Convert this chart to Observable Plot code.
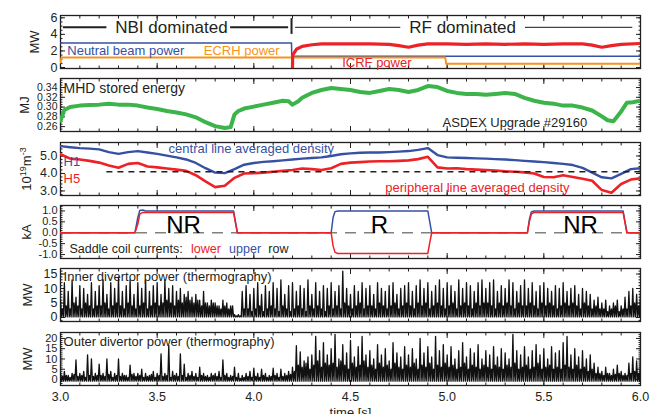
<!DOCTYPE html>
<html><head><meta charset="utf-8">
<script src="https://cdn.jsdelivr.net/npm/d3@7"></script>
<script src="https://cdn.jsdelivr.net/npm/@observablehq/plot@0.6"></script>
<style>
body{margin:0;background:#fff;}
#chart{position:relative;width:662px;height:414px;overflow:hidden;background:#fff;}
#chart svg{position:absolute;left:0;}
</style></head><body><div id="chart"></div>
<script>
// ---------------- data ----------------
const xTicks = [3.0, 3.5, 4.0, 4.5, 5.0, 5.5, 6.0];

// Panel 1: heating power (MW)
const nbiT   = [3.0, 4.195, 4.196, 6.0];
const nbiMW  = [2.97, 2.97, 1.35, 1.35];
const ecrhT  = [3.0, 3.005, 4.99, 4.995, 6.0];
const ecrhMW = [0.6, 1.22, 1.22, 0.45, 0.45];
const icrfT  = [4.2, 4.201, 4.22, 4.25, 4.3, 4.35, 4.4, 4.5, 4.6, 4.7, 4.75, 4.8, 4.85, 4.9, 5.0, 5.1, 5.2, 5.3, 5.4, 5.5, 5.6, 5.7, 5.75, 5.8, 5.85, 5.9, 6.0];
const icrfMW = [0, 1.5, 2.2, 2.55, 2.75, 2.85, 2.85, 2.85, 2.85, 2.8, 2.65, 2.45, 2.7, 2.85, 2.85, 2.8, 2.85, 2.8, 2.85, 2.8, 2.85, 2.85, 2.7, 2.45, 2.65, 2.8, 2.9];
const p1Ticks = [0, 2, 4, 6];

// Panel 2: MHD stored energy (MJ)
const wT  = [3.00,3.02,3.05,3.10,3.15,3.20,3.25,3.30,3.35,3.40,3.45,3.50,3.55,3.60,3.65,3.70,3.75,3.80,3.85,3.88,3.90,3.92,3.95,4.00,4.05,4.10,4.15,4.18,4.20,4.23,4.25,4.30,4.35,4.40,4.45,4.50,4.55,4.60,4.65,4.70,4.75,4.80,4.85,4.90,4.95,5.00,5.05,5.10,5.15,5.20,5.25,5.30,5.35,5.40,5.45,5.50,5.55,5.60,5.65,5.70,5.75,5.80,5.83,5.86,5.90,5.93,5.96,6.00];
const wMJ = [0.272,0.294,0.300,0.303,0.304,0.305,0.307,0.305,0.305,0.303,0.299,0.296,0.292,0.289,0.285,0.279,0.269,0.261,0.257,0.259,0.285,0.292,0.297,0.301,0.305,0.309,0.313,0.312,0.305,0.312,0.319,0.329,0.335,0.339,0.337,0.335,0.331,0.329,0.333,0.337,0.335,0.331,0.335,0.343,0.341,0.333,0.329,0.327,0.327,0.325,0.327,0.329,0.327,0.319,0.313,0.309,0.307,0.303,0.303,0.299,0.293,0.281,0.273,0.271,0.291,0.309,0.310,0.313];
const p2Ticks = [0.26, 0.28, 0.30, 0.32, 0.34];

// Panel 3: line averaged densities (10^19 m^-3), sampled every 0.05 s from 3.0 s
const centralDens = [5.56,5.5,5.45,5.42,5.38,5.22,5.12,5.22,5.28,5.2,
  5.12,5.02,4.92,4.8,4.6,4.3,4.05,4.02,4.25,4.5,
  4.6,4.66,4.7,4.75,4.8,4.85,4.88,4.92,5.0,5.1,
  5.15,5.18,5.2,5.2,5.22,5.25,5.28,5.35,5.45,5.05,
  4.92,4.9,4.88,4.86,4.85,4.82,4.8,4.76,4.72,4.68,
  4.65,4.6,4.55,4.48,4.32,4.05,3.78,3.72,3.98,4.25,
  4.3];
const peripheralDens = [5.1,4.85,4.8,4.72,4.62,4.45,4.33,4.55,4.6,4.4,
  4.35,4.28,4.22,4.15,3.9,3.55,3.22,3.3,3.75,4.0,
  4.02,4.05,4.1,4.15,4.2,4.28,4.25,4.2,4.3,4.55,
  4.62,4.65,4.68,4.7,4.7,4.72,4.75,4.82,4.95,4.35,
  4.28,4.3,4.25,4.22,4.2,4.17,4.12,4.1,4.06,4.0,
  3.8,3.78,3.9,3.8,3.7,3.58,3.05,2.9,3.4,3.65,
  3.72];
const densThreshold = 4.1;
const p3Ticks = [3.0, 4.0, 5.0];

// Panel 4: saddle coil currents (kA)
const coilT   = [3.0, 3.385, 3.40, 3.41, 3.425, 3.44, 3.895, 3.905, 3.915, 4.40, 4.41, 4.42, 4.435, 4.9, 4.91, 4.92, 5.415, 5.425, 5.435, 5.45, 5.91, 5.92, 5.93, 6.0];
const upperKA = [0, 0, 0.7, 1.02, 1.04, 1.0, 1.0, 0.5, 0, 0, 0.7, 0.97, 1.0, 1.0, 0.5, 0, 0, 0.6, 0.95, 1.0, 1.0, 0.5, 0, 0];
const lowerKA = [0, 0, 0.4, 0.85, 0.93, 0.93, 0.93, 0.45, 0, 0, -0.6, -0.9, -0.95, -0.95, -0.45, 0, 0, 0.5, 0.85, 0.93, 0.93, 0.45, 0, 0];
const p4Ticks = [-1.0, -0.5, 0.0, 0.5, 1.0];

// Panels 5/6: divertor power (MW), ELM peaks and inter-ELM level every 0.02 s from 3.0 s
const innerPeak = [6,12,9,13,7,11,10,8,12,9, 11,13,8,12,10,14,9,11,13,8, 12,10,13,9,11,12,8,13,10,11,
  9,10,8,9,7,8,6,9,5,6, 5,4,6,5,4,1,1,9,11,8, 10,12,8,11,9,12,10,13,8,11,
  12,9,11,10,13,8,12,9,11,10, 12,9,11,16,10,8,11,9,12,10, 11,8,12,10,9,11,12,8,10,11,
  12,9,11,13,10,12,9,11,13,10, 12,11,9,13,10,12,11,9,12,13, 10,12,13,9,11,10,13,12,9,11,
  13,10,12,9,11,12,10,9,11,10, 12,9,10,11,8,10,9,8,6,7, 5,6,4,5,6,4,7,9,10,8, 9];
const innerMid = [3,4,3,5,4,3,5,4,3,4, 4,5,3,4,5,4,3,5,4,3, 4,5,3,4,5,4,5,6,5,4,
  6,5,7,6,5,6,4,5,4,5, 4,3,4,3,4,0.5,0.5,3,3,2, 3,4,2,3,4,3,2,4,3,2,
  3,4,3,2,4,3,4,3,2,4, 3,4,3,5,4,3,4,5,3,4, 4,3,5,4,3,4,5,3,4,5,
  4,3,5,4,5,3,4,5,4,3, 4,5,3,4,5,4,3,5,4,5, 5,4,3,5,4,5,4,3,5,4,
  4,5,4,3,5,4,5,4,3,4, 5,4,5,4,3,5,4,3,4,3, 3,2,3,4,2,3,3,4,5,4, 4];
const innerBase = 0.2;
const outerPeak = [3,4,2,3,9.5,3,4,12,10,3, 7.5,3,10,4,3,10,3,2,7,3, 3,5,3,2,4,3,12.5,3,16.5,4,
  3,12.5,7.5,3,4,3,6,3,2,3, 3,4,9.5,3,2,6,3,2,3,4, 5.5,3,5,3,2,5.5,3,5,3,4,
  6,16.5,13.5,9,11,12,21,14,18,12, 15,22,10,17,13,19,11,16,21,12, 14,10,17,12,15,9,18,13,11,16,
  12,15,10,20,13,16,11,21,14,17, 12,16,10,14,18,11,15,13,17,10, 14,12,16,11,15,13,10,22,14,12,
  16,11,14,17,12,15,10,16,13,14, 18,21,12,15,11,14,10,12,8,6, 4,6,3,5,7,4,3,8,11,9, 10];
const outerMid = [1.5,2,1,2.5,1.5,2,1,2,1.5,2, 2,1.5,2.5,1,2,1.5,2,1,2.5,1.5, 2,1,1.5,2.5,1,2,1.5,2,1,2,
  1.5,2,1,2,1.5,1,2,1.5,1,2, 1.5,1,2,1,1.5,1,0.5,1,1.5,1, 1.5,1,2,1,1.5,2,1,1.5,2,2.5,
  4,7,6,8,5,7,9,6,8,7, 8,6,9,7,5,8,6,7,9,6, 7,5,8,6,7,5,8,6,5,7,
  6,8,5,7,6,8,5,7,6,8, 6,7,5,6,8,5,7,6,5,7, 6,5,7,6,5,7,6,8,5,6,
  7,5,6,8,5,6,7,5,6,5, 7,6,5,7,5,6,4,5,3,3, 2,3,2,2.5,3,2,2,3,4,3, 4];
const outerBase = -0.8;
const p5Ticks = [0, 5, 10, 15];
const p6Ticks = [0, 5, 10, 15, 20];

// ---------------- drawing ----------------
const chart = document.getElementById("chart");
const FONT = '"Liberation Sans", Arial, Helvetica, sans-serif';
const ink = "#231f20";
const BLUE = "#3651a3", RED = "#ec2227", ORANGE = "#f7941d", GREEN = "#3cb44a";
const zip = (T, V) => T.map((t, i) => ({t, v: V[i]}));
const densT = d3.range(centralDens.length).map(i => 3 + i * 0.05);
function elmSeries(peaks, mids, base) {
  const pts = [];
  peaks.forEach((p, i) => {
    const t = 3 + i * 0.02;
    pts.push({t, v: p}, {t: t + 0.005, v: base}, {t: t + 0.01, v: mids[i]}, {t: t + 0.015, v: base});
  });
  return pts;
}
const xMinor = d3.range(30, 61).map(d => d / 10);
const none = () => "";

function frameMarks(yMajor, yMinor, yFmt, xLabels, fs = 12.5) {
  return [
    Plot.axisY(yMinor, {anchor: "left", tickSize: -2.5, tickFormat: none, label: null}),
    Plot.axisY(yMinor, {anchor: "right", tickSize: -2.5, tickFormat: none, label: null}),
    Plot.axisX(xMinor, {anchor: "top", tickSize: -2.5, tickFormat: none, label: null}),
    Plot.axisX(xMinor, {anchor: "bottom", tickSize: -2.5, tickFormat: none, label: null}),
    Plot.axisY(yMajor, {anchor: "left", tickSize: -5, tickPadding: 8, tickFormat: yFmt, label: null, fontSize: fs}),
    Plot.axisY(yMajor, {anchor: "right", tickSize: -5, tickFormat: none, label: null}),
    Plot.axisX(xTicks, {anchor: "top", tickSize: -5, tickFormat: none, label: null}),
    Plot.axisX(xTicks, {anchor: "bottom", tickSize: -5, tickPadding: 11.5,
      tickFormat: xLabels ? (d => d.toFixed(1)) : none, label: null, fontSize: 12.5}),
    Plot.frame({stroke: ink, strokeWidth: 1.3})
  ];
}
const title = (s, cx) => Plot.text([s], {text: d => d, frameAnchor: "left", dx: cx - 60, rotate: -90,
  fontSize: 13, fill: ink, textAnchor: "middle", lineAnchor: "middle"});
const label = (s, x, y, fill, opts = {}) => Plot.text([s], {text: d => d, x, y, fill, fontSize: 13,
  textAnchor: "start", lineAnchor: "middle", ...opts});

function panel(top, yDomain, marks, h = 64, mb = 6) {
  const mt = 5;
  const svg = Plot.plot({
    width: 662, height: h, marginLeft: 60, marginRight: 22, marginTop: mt, marginBottom: mb,
    x: {domain: [3, 6]}, y: {domain: yDomain},
    style: {fontFamily: FONT, fontSize: "12.5px", color: ink, background: "transparent", overflow: "visible"},
    marks
  });
  svg.style.top = (top - mt) + "px";
  chart.append(svg);
  return svg;
}

// Panel 1
panel(15, [-0.12, 6.28], [
  ...frameMarks(p1Ticks, d3.range(0, 6.01, 0.5), d3.format("d"), false),
  Plot.line(zip(nbiT, nbiMW), {x: "t", y: "v", stroke: BLUE, strokeWidth: 1.5, clip: true}),
  Plot.line(zip(ecrhT, ecrhMW), {x: "t", y: "v", stroke: ORANGE, strokeWidth: 2, clip: true}),
  Plot.line(zip(icrfT, icrfMW), {x: "t", y: "v", stroke: RED, strokeWidth: 3.2, clip: true}),
  Plot.ruleY([4.85], {x1: 3.015, x2: 3.24, stroke: ink, strokeWidth: 2}),
  Plot.ruleY([4.85], {x1: 3.88, x2: 4.18, stroke: ink, strokeWidth: 2}),
  Plot.ruleX([4.195], {y1: 4.0, y2: 5.9, stroke: ink, strokeWidth: 2}),
  Plot.ruleY([4.85], {x1: 4.216, x2: 4.76, stroke: "#444", strokeWidth: 1.2}),
  Plot.ruleY([4.85], {x1: 5.405, x2: 5.96, stroke: "#444", strokeWidth: 1.2}),
  label("NBI dominated", 3.574, 4.85, ink, {fontSize: 17, textAnchor: "middle"}),
  label("RF dominated", 5.08, 4.85, ink, {fontSize: 17, textAnchor: "middle"}),
  label("Neutral beam power", 3.035, 2.0, BLUE),
  label("ECRH power", 3.741, 2.0, ORANGE),
  label("ICRF power", 4.457, 0.6, RED),
  title("MW", 34)
]);

// Panel 2
panel(78, [0.25, 0.3585], [
  ...frameMarks(p2Ticks, d3.range(50, 72).map(d => d * 0.005), d3.format(".2f"), false, 10.5),
  Plot.line(zip(wT, wMJ), {x: "t", y: "v", stroke: GREEN, strokeWidth: 4, clip: true}),
  label("MHD stored energy", 3.016, 0.339, ink, {fontSize: 14}),
  label("ASDEX Upgrade #29160", 5.35, 0.267, ink, {textAnchor: "middle"}),
  title("MJ", 24)
]);

// Panel 3
const p3 = panel(142, [2.74, 5.77], [
  ...frameMarks(p3Ticks, d3.range(14, 29).map(d => d * 0.2), d3.format(".1f"), false),
  Plot.line(zip(densT, centralDens), {x: "t", y: "v", stroke: BLUE, strokeWidth: 2.4, clip: true}),
  Plot.line(zip(densT, peripheralDens), {x: "t", y: "v", stroke: RED, strokeWidth: 2.6, clip: true}),
  Plot.ruleY([densThreshold], {x1: 3.24, x2: 6.0, stroke: ink, strokeWidth: 1.4, strokeDasharray: "6,5"}),
  label("central line averaged density", 3.559, 5.43, BLUE),
  label("H1", 3.016, 4.65, BLUE),
  label("H5", 3.016, 3.71, RED),
  label("peripheral line averaged density", 4.68, 3.16, RED),
  title("DENSLABEL", 26)
]);

// Panel 4
panel(205, [-1.18, 1.25], [
  ...frameMarks(p4Ticks, d3.range(-11, 13).map(d => d / 10), d => d.toFixed(1), false, 11),
  Plot.ruleY([0], {stroke: "#808080", strokeWidth: 1.5, strokeDasharray: "11,8"}),
  Plot.line(zip(coilT, upperKA), {x: "t", y: "v", stroke: BLUE, strokeWidth: 1.5, clip: true}),
  Plot.line(zip(coilT, lowerKA), {x: "t", y: "v", stroke: RED, strokeWidth: 1.5, clip: true}),
  label("NR", 3.636, 0, "#000", {fontSize: 24, textAnchor: "middle", lineAnchor: "bottom"}),
  label("R", 4.65, 0, "#000", {fontSize: 24, textAnchor: "middle", lineAnchor: "bottom"}),
  label("NR", 5.69, 0, "#000", {fontSize: 24, textAnchor: "middle", lineAnchor: "bottom"}),
  label("Saddle coil currents:", 3.046, -0.74, ink, {fontSize: 12.5}),
  label("lower", 3.675, -0.74, RED, {fontSize: 12.5}),
  label("upper", 3.872, -0.74, BLUE, {fontSize: 12.5}),
  label("row", 4.075, -0.74, ink, {fontSize: 12.5}),
  title("kA", 26)
]);

// Panel 5
panel(268, [-1.38, 16.9], [
  ...frameMarks(p5Ticks, d3.range(-1, 17), d3.format("d"), false),
  Plot.line(elmSeries(innerPeak, innerMid, innerBase), {x: "t", y: "v", stroke: "#111", strokeWidth: 1.3, clip: true}),
  label("Inner divertor power (thermography)", 3.016, 14.0, ink),
  title("MW", 27)
]);

// Panel 6
panel(332, [-2.93, 22.9], [
  ...frameMarks(p6Ticks, d3.range(-2, 23), d3.format("d"), true, 11),
  Plot.line(elmSeries(outerPeak, outerMid, outerBase), {x: "t", y: "v", stroke: "#111", strokeWidth: 1.3, clip: true}),
  label("Outer divertor power (thermography)", 3.016, 18.2, ink),
  Plot.text(["time [s]"], {text: d => d, frameAnchor: "bottom", dy: 22, lineAnchor: "top", fontSize: 13, fill: ink}),
  title("MW", 27)
], 87, 29);

// superscripts in density unit label
p3.querySelectorAll("text").forEach(el => {
  if (el.textContent === "DENSLABEL") {
    el.textContent = "";
    const parts = [["10", 0, 13], ["19", -5, 9], ["m", 5, 13], ["-3", -5, 9]];
    for (const [s, dy, fs] of parts) {
      const ts = document.createElementNS("http://www.w3.org/2000/svg", "tspan");
      ts.textContent = s;
      if (dy) ts.setAttribute("dy", dy);
      ts.setAttribute("font-size", fs);
      el.append(ts);
    }
  }
});
</script>
</body></html>
